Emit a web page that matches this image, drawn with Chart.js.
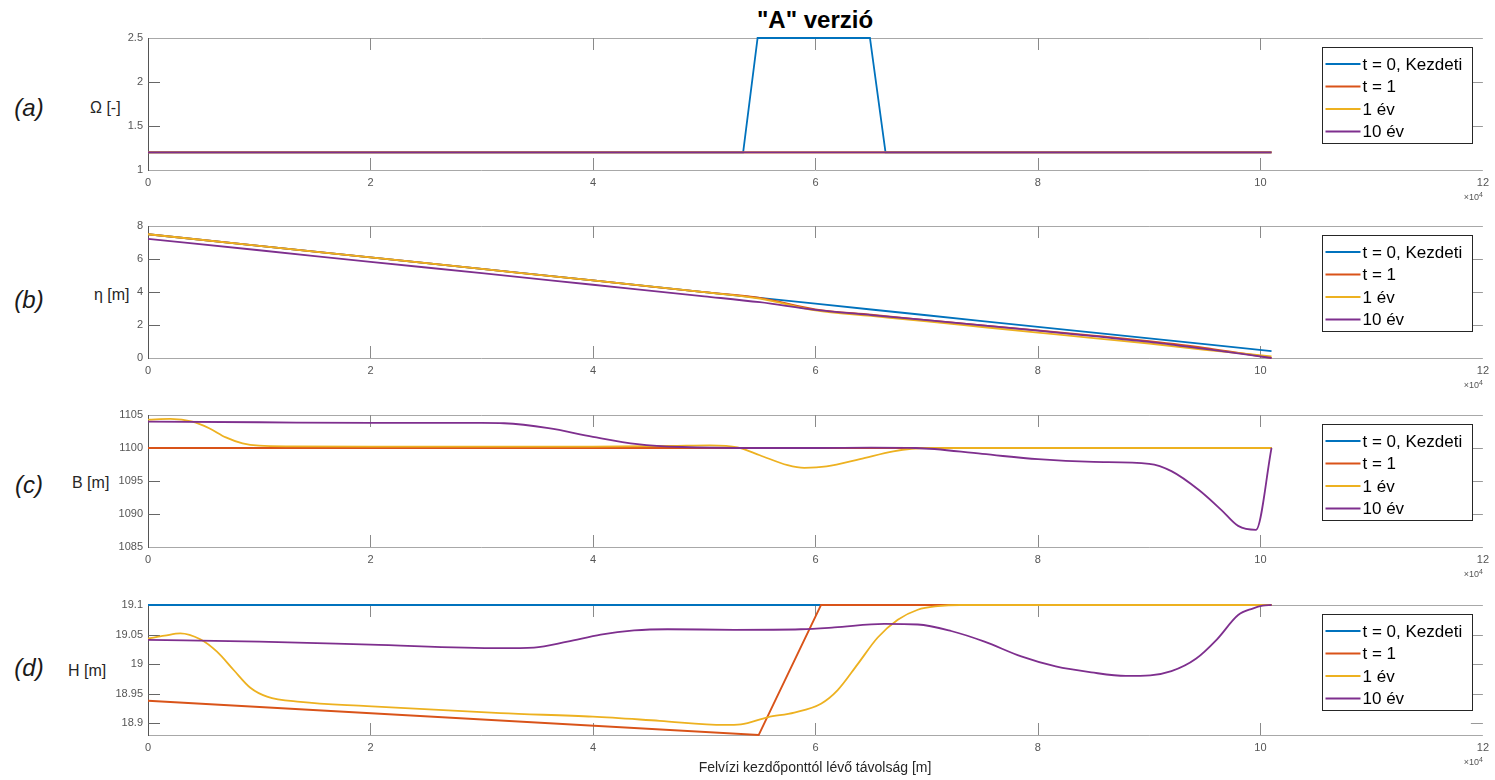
<!DOCTYPE html>
<html>
<head>
<meta charset="utf-8">
<script src="https://cdn.jsdelivr.net/npm/chart.js@4.4.0/dist/chart.umd.min.js"></script>
<style>
  html, body { margin: 0; padding: 0; background: #fff; }
  body { width: 1495px; height: 780px; position: relative; overflow: hidden;
         font-family: "Liberation Sans", Arial, sans-serif; }
  canvas.panel { position: absolute; left: 0; }
  .txt { position: absolute; white-space: nowrap; transform: translate(-50%, -50%); color: #262626; }
  .ylab { position: absolute; white-space: nowrap; transform: translateY(-50%); color: #262626; font-size: 16px; }
  .plab { position: absolute; white-space: nowrap; transform: translate(-50%, -50%); font-style: italic; font-size: 24px; color: #1a1a1a; }
</style>
</head>
<body>

<div class="txt" style="left:815px; top:20px; font-size:24px; font-weight:bold; color:#000;">"A" verzió</div>

<div class="plab" style="left:29px; top:108px;">(a)</div>
<div class="plab" style="left:29px; top:300px;">(b)</div>
<div class="plab" style="left:29px; top:485px;">(c)</div>
<div class="plab" style="left:29px; top:668px;">(d)</div>

<div class="ylab" style="left:90px; top:108px;">Ω [-]</div>
<div class="ylab" style="left:94px; top:295px;">η [m]</div>
<div class="ylab" style="left:72px; top:483px;">B [m]</div>
<div class="ylab" style="left:68px; top:671px;">H [m]</div>

<canvas class="panel" id="chartA" width="1495" height="205" style="top:0px"></canvas>
<canvas class="panel" id="chartB" width="1495" height="195" style="top:200px"></canvas>
<canvas class="panel" id="chartC" width="1495" height="200" style="top:385px"></canvas>
<canvas class="panel" id="chartD" width="1495" height="200" style="top:580px"></canvas>

<div class="txt" style="left:815px; top:767px; font-size:14px;">Felvízi kezdőponttól lévő távolság [m]</div>

<script>
// ---- series names and colours ----
const seriesNames = ['t = 0, Kezdeti', 't = 1', '1 év', '10 év'];
const seriesColors = ['#0072BD', '#D95319', '#EDB120', '#7E2F8E'];

// ---- x axis (distance from upstream start, m) ----
const xTicks = [0, 20000, 40000, 60000, 80000, 100000, 120000];
const xExponent = 4;

// ---- (a) Omega [-] ----
const xOmegaT0 = [0, 53500, 54800, 64900, 66300, 101000];
const omegaT0 = [1.2, 1.2, 2.5, 2.5, 1.2, 1.2];
const xOmegaFlat = [0, 101000];
const omegaT1 = [1.2, 1.2];
const omegaYear1 = [1.2, 1.2];
const omegaYear10 = [1.2, 1.2];
const omegaTicks = [1, 1.5, 2, 2.5];

// ---- (b) eta [m] ----
const xEta = [0, 10000, 20000, 30000, 40000, 50000, 55000, 60000, 65000, 70000, 75000, 80000, 85000, 90000, 95000, 101000];
const etaT0 = [7.50, 6.80, 6.10, 5.40, 4.70, 3.99, 3.64, 3.29, 2.94, 2.59, 2.24, 1.89, 1.54, 1.19, 0.84, 0.42];
const etaT1 = [7.50, 6.80, 6.10, 5.40, 4.70, 3.99, 3.64, 2.95, 2.62, 2.30, 1.98, 1.68, 1.36, 1.02, 0.62, 0.00];
const etaYear1 = [7.50, 6.80, 6.10, 5.40, 4.70, 3.99, 3.60, 2.88, 2.55, 2.22, 1.88, 1.54, 1.20, 0.88, 0.50, 0.10];
const etaYear10 = [7.22, 6.53, 5.83, 5.14, 4.44, 3.74, 3.38, 2.92, 2.60, 2.30, 1.98, 1.66, 1.32, 0.98, 0.55, 0.00];
const etaTicks = [0, 2, 4, 6, 8];

// ---- (c) B [m] ----
const xBFlat = [0, 101000];
const bT0 = [1100, 1100];
const bT1 = [1100, 1100];
const xBYear1 = [0, 2000, 4000, 5500, 7000, 8500, 10000, 13000, 20000, 30000, 40000, 47000, 50500, 53000, 55000, 57500, 59000, 61000, 64000, 67000, 70000, 80000, 101000];
const bYear1 = [1104.3, 1104.4, 1104.0, 1103.0, 1101.6, 1100.7, 1100.35, 1100.25, 1100.2, 1100.2, 1100.2, 1100.3, 1100.4, 1100.1, 1098.9, 1097.4, 1097.0, 1097.2, 1098.3, 1099.5, 1100.0, 1100.0, 1100.0];
const xBYear10 = [0, 10000, 20000, 30000, 32000, 36000, 40000, 44000, 48000, 55000, 60000, 65000, 69000, 75000, 80000, 85000, 90000, 92000, 94500, 96500, 98000, 99600, 101000];
const bYear10 = [1104.0, 1103.9, 1103.8, 1103.8, 1103.75, 1103.0, 1101.7, 1100.6, 1100.15, 1100.0, 1100.0, 1100.05, 1100.0, 1099.1, 1098.3, 1097.9, 1097.6, 1096.5, 1093.6, 1090.6, 1088.2, 1087.6, 1100.0];
const bTicks = [1085, 1090, 1095, 1100, 1105];

// ---- (d) H [m] ----
const xHFlat = [0, 101000];
const hT0 = [19.1, 19.1];
const xHT1 = [0, 54900, 60500, 101000];
const hT1 = [18.938, 18.88, 19.1, 19.1];
const xHYear1 = [0, 1500, 2900, 4700, 6200, 7700, 9200, 10700, 13700, 19700, 31700, 40000, 46000, 51800, 53300, 55700, 58100, 60500, 62000, 63800, 65600, 67400, 69200, 71000, 73000, 101000];
const hYear1 = [19.043, 19.048, 19.052, 19.042, 19.021, 18.990, 18.960, 18.945, 18.936, 18.929, 18.917, 18.911, 18.904, 18.897, 18.898, 18.910, 18.918, 18.933, 18.956, 19.000, 19.045, 19.075, 19.092, 19.098, 19.100, 19.100];
const xHYear10 = [0, 10000, 20000, 31700, 34700, 37700, 40700, 43700, 46700, 52700, 58700, 61700, 66200, 69200, 72200, 75200, 78500, 81600, 84800, 87900, 90100, 92000, 94200, 96100, 98000, 99300, 100200, 101000];
const hYear10 = [19.041, 19.038, 19.033, 19.027, 19.028, 19.038, 19.050, 19.057, 19.059, 19.058, 19.059, 19.062, 19.068, 19.067, 19.056, 19.038, 19.013, 18.996, 18.986, 18.980, 18.981, 18.988, 19.009, 19.042, 19.083, 19.094, 19.099, 19.100];
const hTicks = [18.9, 18.95, 19, 19.05, 19.1];

// ---- helpers ----
function pts(xs, ys) { return xs.map((x, i) => ({ x: x, y: ys[i] })); }

// later series are painted over earlier ones; curves lying on the axes edges stay fully visible
function makeDatasets(list) {
  return list.map((s, i) => ({
    label: seriesNames[i],
    data: pts(s[0], s[1]),
    order: list.length - 1 - i,
    clip: 3,
    borderColor: seriesColors[i],
    backgroundColor: seriesColors[i],
    borderWidth: 1.8,
    pointRadius: 0,
    pointHoverRadius: 0,
    fill: false,
    tension: 0,
    cubicInterpolationMode: s[2] ? 'monotone' : 'default'
  }));
}

function strokeLine(ctx, x1, y1, x2, y2) {
  ctx.beginPath(); ctx.moveTo(x1, y1); ctx.lineTo(x2, y2); ctx.stroke();
}

// axes frame with inward tick marks (drawn under the curves)
const frameTicks = {
  id: 'frameTicks',
  beforeDatasetsDraw(chart) {
    const { ctx, chartArea: a, scales: { x, y } } = chart;
    const TL = 12;
    ctx.save();
    ctx.lineWidth = 1;
    ctx.strokeStyle = '#a8a8a8';
    strokeLine(ctx, a.left, Math.round(a.top) + 0.5, a.right, Math.round(a.top) + 0.5);
    strokeLine(ctx, a.left, Math.round(a.bottom) + 0.5, a.right, Math.round(a.bottom) + 0.5);
    ctx.strokeStyle = '#555';
    strokeLine(ctx, Math.round(a.left) + 0.5, a.top, Math.round(a.left) + 0.5, a.bottom + 1);
    ctx.strokeStyle = '#8a8a8a';
    x.ticks.forEach(t => {
      const px = Math.round(x.getPixelForValue(t.value)) + 0.5;
      if (px <= a.left + 1 || px >= a.right - 1) return;
      strokeLine(ctx, px, a.top, px, a.top + TL);
      strokeLine(ctx, px, a.bottom, px, a.bottom - TL);
    });
    y.ticks.forEach(t => {
      const py = Math.round(y.getPixelForValue(t.value)) + 0.5;
      if (py <= a.top + 1 || py >= a.bottom - 1) return;
      ctx.strokeStyle = '#666';
      strokeLine(ctx, a.left, py, a.left + TL, py);
      ctx.strokeStyle = '#999';
      strokeLine(ctx, a.right - TL, py, a.right, py);
    });
    ctx.restore();
  },
  afterDraw(chart) {
    const { ctx, chartArea: a } = chart;
    ctx.save();
    // exponent note under the x axis
    ctx.fillStyle = '#555';
    ctx.textBaseline = 'middle';
    ctx.textAlign = 'right';
    ctx.font = '7px "Liberation Sans", Arial, sans-serif';
    ctx.fillText(String(xExponent), a.right, a.bottom + 25);
    const w4 = ctx.measureText(String(xExponent)).width;
    ctx.font = '9px "Liberation Sans", Arial, sans-serif';
    ctx.fillText('\u00d710', a.right - w4, a.bottom + 28);

    // legend box inside the axes
    const bw = 150, bh = 96;
    const bx = Math.round(a.right - 11 - bw) + 0.5;
    const by = Math.round(a.top + 9) + 0.5;
    ctx.fillStyle = '#fff';
    ctx.fillRect(bx, by, bw, bh);
    ctx.strokeStyle = '#262626';
    ctx.lineWidth = 1;
    ctx.strokeRect(bx, by, bw, bh);
    ctx.font = '17px "Liberation Sans", Arial, sans-serif';
    ctx.textAlign = 'left';
    ctx.textBaseline = 'middle';
    chart.data.datasets.forEach((ds, i) => {
      const ry = by + 16.5 + i * 22.5;
      ctx.strokeStyle = ds.borderColor;
      ctx.lineWidth = ds.borderWidth;
      strokeLine(ctx, bx + 3, ry, bx + 38, ry);
      ctx.fillStyle = '#000';
      ctx.fillText(ds.label, bx + 40, ry + 1);
    });
    ctx.restore();
  }
};

function fmt(v) { return String(+v.toFixed(4)); }

function makeChart(id, datasets, yMin, yMax, yTicks, top, bottom, height) {
  const xAxisH = 22;
  return new Chart(document.getElementById(id), {
    type: 'line',
    data: { datasets: datasets },
    options: {
      responsive: false,
      animation: false,
      events: [],
      layout: { padding: { top: top, left: 0, right: 12, bottom: height - bottom - xAxisH } },
      plugins: { legend: { display: false }, tooltip: { enabled: false } },
      scales: {
        x: {
          type: 'linear', min: 0, max: 120000,
          grid: { display: false, drawTicks: false },
          border: { display: false },
          afterBuildTicks: s => { s.ticks = xTicks.map(v => ({ value: v })); },
          afterFit: s => { s.height = xAxisH; },
          ticks: {
            autoSkip: false, maxRotation: 0, padding: 6,
            color: '#555', font: { size: 11, family: '"Liberation Sans", Arial, sans-serif' },
            callback: v => fmt(v / Math.pow(10, xExponent))
          }
        },
        y: {
          type: 'linear', min: yMin, max: yMax,
          grid: { display: false, drawTicks: false },
          border: { display: false },
          afterBuildTicks: s => { s.ticks = yTicks.map(v => ({ value: v })); },
          afterFit: s => { s.width = 148; },
          ticks: {
            autoSkip: false, padding: 5,
            color: '#555', font: { size: 11, family: '"Liberation Sans", Arial, sans-serif' },
            callback: v => fmt(v)
          }
        }
      }
    },
    plugins: [frameTicks]
  });
}

makeChart('chartA', makeDatasets([
  [xOmegaT0, omegaT0], [xOmegaFlat, omegaT1], [xOmegaFlat, omegaYear1], [xOmegaFlat, omegaYear10]
]), 1, 2.5, omegaTicks, 38, 170, 205);

makeChart('chartB', makeDatasets([
  [xEta, etaT0], [xEta, etaT1, true], [xEta, etaYear1, true], [xEta, etaYear10, true]
]), 0, 8, etaTicks, 26, 158, 195);

makeChart('chartC', makeDatasets([
  [xBFlat, bT0], [xBFlat, bT1], [xBYear1, bYear1, true], [xBYear10, bYear10, true]
]), 1085, 1105, bTicks, 30, 162, 200);

makeChart('chartD', makeDatasets([
  [xHFlat, hT0], [xHT1, hT1], [xHYear1, hYear1, true], [xHYear10, hYear10, true]
]), 18.88, 19.1, hTicks, 25, 155, 200);
</script>
</body>
</html>
